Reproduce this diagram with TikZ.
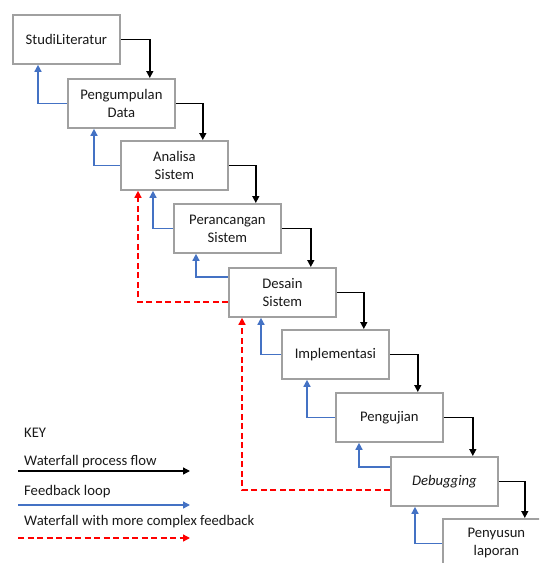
\documentclass[tikz,border=0pt]{standalone}
\usepackage{fontspec}
\setmainfont{Carlito}
\usetikzlibrary{arrows.meta,calc}

\definecolor{fbblue}{HTML}{4472C4}
\definecolor{fbred}{HTML}{FF0000}
\definecolor{boxgray}{HTML}{A0A0A0}

\tikzset{
  stage/.style={draw=boxgray, line width=1.8pt, fill=white,
    minimum width=107pt, minimum height=49pt, anchor=north west,
    align=center, inner sep=2pt, text=black!90,
    font=\fontsize{14.67}{18}\selectfont},
  keytext/.style={anchor=west, inner sep=0pt, text=black!90,
    font=\fontsize{14.67}{18}\selectfont},
  flow/.style={black, line width=1.4pt, -{Triangle[length=7pt,width=7pt]}},
  fback/.style={fbblue, line width=1.4pt, -{Triangle[length=7pt,width=7pt]}},
  cfback/.style={fbred, line width=1.4pt, dash pattern=on 6pt off 3.5pt,
    -{Triangle[length=7pt,width=7pt]}}
}

\begin{document}
\begin{tikzpicture}[x=1pt,y=-1pt]
  \useasboundingbox (0,0) rectangle (539,563);
  \clip (0,0) rectangle (539,563);

  % stages
  \node[stage] (lit) at (12,14) {StudiLiteratur};
  \node[stage] (data) at (67,78) {Pengumpulan\\Data};
  \node[stage] (anl) at (120,140) {Analisa\\Sistem};
  \node[stage] (pr) at (173,203) {Perancangan\\Sistem};
  \node[stage] (dsn) at (228,267) {Desain\\Sistem};
  \node[stage] (imp) at (281,329) {Implementasi};
  \node[stage] (uji) at (335,392) {Pengujian};
  \node[stage] (dbg) at (390,456) {\textit{Debugging}};
  \node[stage] (lap) at (442,518) {Penyusun\\laporan};

  % waterfall flow
  \draw[flow] (lit.east) -| ([xshift=-26pt]data.north east);
  \draw[flow] (data.east) -| ([xshift=-26pt]anl.north east);
  \draw[flow] (anl.east) -| ([xshift=-26pt]pr.north east);
  \draw[flow] (pr.east) -| ([xshift=-26pt]dsn.north east);
  \draw[flow] (dsn.east) -| ([xshift=-26pt]imp.north east);
  \draw[flow] (imp.east) -| ([xshift=-26pt]uji.north east);
  \draw[flow] (uji.east) -| ([xshift=-26pt]dbg.north east);
  \draw[flow] (dbg.east) -| ([xshift=-26pt]lap.north east);

  % feedback loops
  \draw[fback] (data.west) -| ([xshift=26pt]lit.south west);
  \draw[fback] (anl.west) -| ([xshift=27pt]data.south west);
  \draw[fback] (pr.west) -| ([xshift=33pt]anl.south west);
  \draw[fback] ([yshift=-10pt]dsn.north west) -| ([xshift=23pt]pr.south west);
  \draw[fback] (imp.west) -| ([xshift=33pt]dsn.south west);
  \draw[fback] (uji.west) -| ([xshift=26pt]imp.south west);
  \draw[fback] ([yshift=-11pt]dbg.north west) -| ([xshift=24pt]uji.south west);
  \draw[fback] (lap.west) -| ([xshift=25pt]dbg.south west);

  % complex feedback
  \draw[cfback] ([yshift=-35pt]dsn.north west) -| ([xshift=18pt]anl.south west);
  \draw[cfback] ([yshift=-34pt]dbg.north west) -| ([xshift=14pt]dsn.south west);

  % key
  \node[keytext] (key) at (24,433) {KEY};
  \node[keytext] (kflow) at (24,462) {Waterfall process flow};
  \node[keytext] (kloop) at (24,492) {Feedback loop};
  \node[keytext] (kcplx) at (24,522) {Waterfall with more complex feedback};
  \coordinate (kf1) at (18,471);  \coordinate (kf2) at (190,471);
  \coordinate (kl1) at (18,505);  \coordinate (kl2) at (190,505);
  \coordinate (kc1) at (18,538);  \coordinate (kc2) at (190,538);
  \draw[flow] (kf1) -- (kf2);
  \draw[fback] (kl1) -- (kl2);
  \draw[cfback] (kc1) -- (kc2);
\end{tikzpicture}
\end{document}
